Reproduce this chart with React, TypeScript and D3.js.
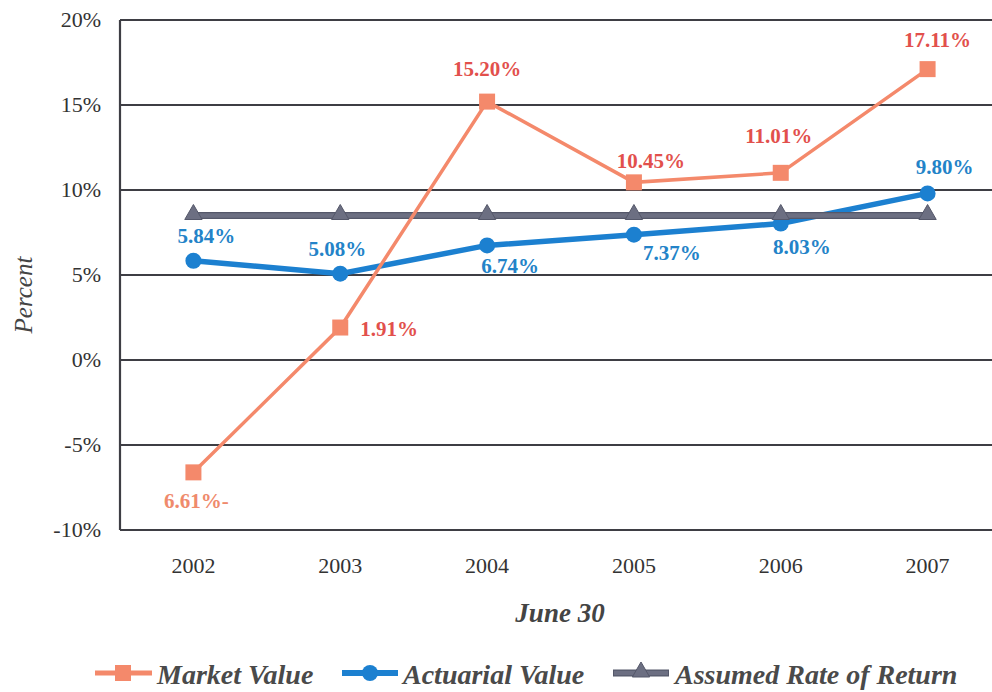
import React from "react";
import * as d3 from "d3";

const years = ["2002", "2003", "2004", "2005", "2006", "2007"];
const marketValue = [-6.61, 1.91, 15.2, 10.45, 11.01, 17.11];
const actuarialValue = [5.84, 5.08, 6.74, 7.37, 8.03, 9.8];
const assumedRate = [8.5, 8.5, 8.5, 8.5, 8.5, 8.5];
const yTicks = [-10, -5, 0, 5, 10, 15, 20];
const marketLabels = ["6.61%-", "1.91%", "15.20%", "10.45%", "11.01%", "17.11%"];
const actuarialLabels = ["5.84%", "5.08%", "6.74%", "7.37%", "8.03%", "9.80%"];

// label offsets (layout)
const marketOff: [number, number, string][] = [
  [3, 36, "middle"], [20, 8, "start"], [0, -26, "middle"], [17, -14, "middle"], [-2, -30, "middle"], [10, -22, "middle"],
];
const actOff: [number, number, string][] = [
  [13, -18, "middle"], [-3, -18, "middle"], [23, 28, "middle"], [38, 25, "middle"], [21, 31, "middle"], [17, -19, "middle"],
];

const W = 992, H = 692;
const L = 120, T = 20, B = 530, R = 1001;

export default function App() {
  const x = d3.scaleBand().domain(years).range([L, R]);
  const cx = (i: number) => (x(years[i]) as number) + x.bandwidth() / 2;
  const y = d3.scaleLinear().domain([-10, 20]).range([B, T]);
  const line = d3.line<number>().x((_, i) => cx(i)).y((v) => y(v));

  const mColor = "#f4896b";
  const mLabel = "#e2504c";
  const aColor = "#1c80d0";
  const aLabel = "#2383c8";
  const gColor = "#6c6f82";

  const tri = d3.symbol().type(d3.symbolTriangle).size(130)();

  return (
    <div style={{ position: "absolute", left: 0, top: 0, width: W, height: H, background: "#fff" }}>
      <svg width={W} height={H} style={{ position: "absolute", left: 0, top: 0 }}>
        {yTicks.map((t) => (
          <line key={t} x1={L} x2={R} y1={y(t)} y2={y(t)} stroke="#3e3e44" strokeWidth={2.2} />
        ))}
        <line x1={L} x2={L} y1={T} y2={B} stroke="#3e3e44" strokeWidth={2.2} />

        <path d={line(actuarialValue) || ""} fill="none" stroke={aColor} strokeWidth={5.5} />
        {actuarialValue.map((v, i) => (
          <circle key={i} cx={cx(i)} cy={y(v)} r={8} fill={aColor} />
        ))}
        <path d={line(assumedRate) || ""} fill="none" stroke="#55586a" strokeWidth={7} />
        <path d={line(assumedRate) || ""} fill="none" stroke={gColor} strokeWidth={4.5} />
        {assumedRate.map((v, i) => (
          <path key={i} d={tri || ""} transform={`translate(${cx(i)},${y(v) - 1})`} fill={gColor} stroke="#55586a" strokeWidth={1} />
        ))}
        <path d={line(marketValue) || ""} fill="none" stroke={mColor} strokeWidth={3.5} />
        {marketValue.map((v, i) => (
          <rect key={i} x={cx(i) - 8} y={y(v) - 8} width={16} height={16} fill={mColor} />
        ))}

        <line x1={95} x2={152} y1={673} y2={673} stroke={mColor} strokeWidth={5} />
        <rect x={115} y={665} width={16} height={16} fill={mColor} />
        <line x1={342} x2={398} y1={673} y2={673} stroke={aColor} strokeWidth={6} />
        <circle cx={370} cy={673} r={8} fill={aColor} />
        <line x1={613} x2={669} y1={673} y2={673} stroke="#55586a" strokeWidth={7} />
        <line x1={614} x2={668} y1={673} y2={673} stroke={gColor} strokeWidth={4.5} />
        <path d={tri || ""} transform={`translate(641,672)`} fill={gColor} stroke="#55586a" strokeWidth={1} />
      </svg>
      <svg width={W} height={H} style={{ position: "absolute", left: 0, top: 0 }}>
        {yTicks.map((t) => (
          <text key={t} x={101} y={y(t) + 7} textAnchor="end" fontSize={22} fill="#333" style={{ fontFamily: "Liberation Serif" }}>
            {t}%
          </text>
        ))}
        {years.map((yr, i) => (
          <text key={yr} x={cx(i)} y={573} textAnchor="middle" fontSize={22} fill="#333" style={{ fontFamily: "Liberation Serif" }}>
            {yr}
          </text>
        ))}
        <text x={560} y={622} textAnchor="middle" fontSize={27} fontWeight="bold" fontStyle="italic" fill="#444" style={{ fontFamily: "Liberation Serif" }}>
          June 30
        </text>
        <text transform="translate(32,295) rotate(-90)" textAnchor="middle" fontSize={25} fontStyle="italic" fill="#444" style={{ fontFamily: "Liberation Serif" }}>
          Percent
        </text>
        {marketValue.map((v, i) => (
          <text key={"m" + i} x={cx(i) + marketOff[i][0]} y={y(v) + marketOff[i][1]} textAnchor={marketOff[i][2] as any}
            fontSize={21} fontWeight="bold" fill={i === 0 ? "#ef8a6c" : mLabel} style={{ fontFamily: "Liberation Serif" }}>
            {marketLabels[i]}
          </text>
        ))}
        {actuarialValue.map((v, i) => (
          <text key={"a" + i} x={cx(i) + actOff[i][0]} y={y(v) + actOff[i][1]} textAnchor={actOff[i][2] as any}
            fontSize={21} fontWeight="bold" fill={aLabel} style={{ fontFamily: "Liberation Serif" }}>
            {actuarialLabels[i]}
          </text>
        ))}
        <text x={157} y={684} fontSize={28} fontWeight="bold" fontStyle="italic" fill="#4a4a4a" style={{ fontFamily: "Liberation Serif" }}>Market Value</text>
        <text x={403} y={684} fontSize={28} fontWeight="bold" fontStyle="italic" fill="#4a4a4a" style={{ fontFamily: "Liberation Serif" }}>Actuarial Value</text>
        <text x={675} y={684} fontSize={28} fontWeight="bold" fontStyle="italic" fill="#4a4a4a" style={{ fontFamily: "Liberation Serif" }}>Assumed Rate of Return</text>
      </svg>
    </div>
  );
}
